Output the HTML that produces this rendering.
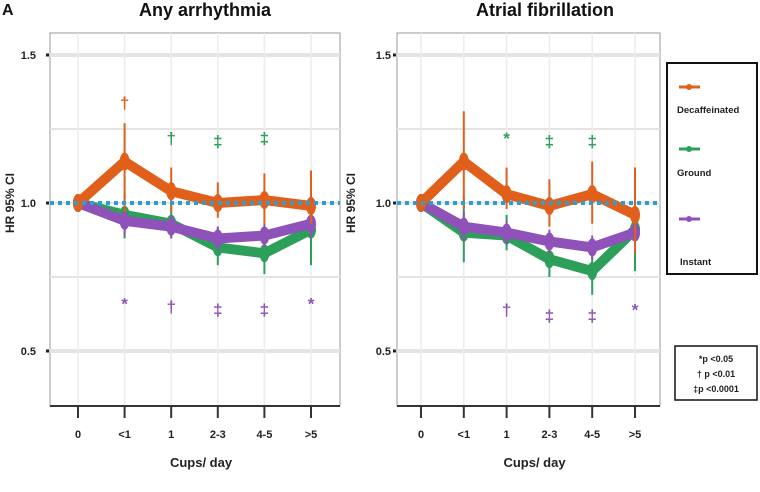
<!DOCTYPE html>
<html><head><meta charset="utf-8"><style>
body{margin:0;background:#fff;width:760px;height:487px;overflow:hidden;font-family:"Liberation Sans",sans-serif}
svg text{font-family:"Liberation Sans",sans-serif;font-weight:bold}
</style></head><body>
<svg id="c" width="760" height="487"></svg>
<script>
const categories=["0","<1","1","2-3","4-5",">5"];
const yTicks=[1.5,1.0,0.5];
const gridVals=[1.5,1.25,1.0,0.75,0.5];
const a_decaf=[1.0,1.14,1.04,1.0,1.01,0.99];
const a_decafLo=[1.0,0.97,0.97,0.95,0.93,0.93];
const a_decafHi=[1.0,1.27,1.12,1.07,1.10,1.11];
const a_ground=[1.0,0.96,0.93,0.85,0.83,0.91];
const a_groundLo=[1.0,0.88,0.88,0.79,0.76,0.79];
const a_groundHi=[1.0,1.04,1.0,0.92,0.92,1.05];
const a_inst=[1.0,0.94,0.92,0.88,0.89,0.93];
const a_instLo=[1.0,0.89,0.88,0.84,0.85,0.88];
const a_instHi=[1.0,0.99,0.96,0.92,0.93,0.98];
const a_marks=[["decaf",1,1.34,"†"],["ground",2,1.22,"†"],["ground",3,1.21,"‡"],["ground",4,1.22,"‡"],["inst",1,0.66,"*"],["inst",2,0.65,"†"],["inst",3,0.64,"‡"],["inst",4,0.64,"‡"],["inst",5,0.66,"*"]];
const b_decaf=[1.0,1.14,1.03,0.99,1.03,0.96];
const b_decafLo=[1.0,0.98,0.98,0.92,0.93,0.83];
const b_decafHi=[1.0,1.31,1.12,1.08,1.14,1.12];
const b_ground=[1.0,0.90,0.89,0.81,0.77,0.91];
const b_groundLo=[1.0,0.80,0.84,0.75,0.69,0.77];
const b_groundHi=[1.0,1.02,0.96,0.88,0.86,1.12];
const b_inst=[1.0,0.92,0.90,0.87,0.85,0.90];
const b_instLo=[1.0,0.87,0.86,0.83,0.81,0.85];
const b_instHi=[1.0,0.97,0.94,0.91,0.89,0.95];
const b_marks=[["ground",2,1.22,"*"],["ground",3,1.21,"‡"],["ground",4,1.21,"‡"],["inst",2,0.64,"†"],["inst",3,0.62,"‡"],["inst",4,0.62,"‡"],["inst",5,0.64,"*"]];
const COL={decaf:"#e0601b",ground:"#2ca05a",inst:"#8e52b8"};
const svg=document.getElementById('c');
const NS="http://www.w3.org/2000/svg";
function mk(t,a,p){const e=document.createElementNS(NS,t);for(const k in a)e.setAttribute(k,a[k]);(p||svg).appendChild(e);return e;}
function yS(v){return 203-(v-1)*296;}
function panel(id,x0,x1,xFirst,xStep,title,tx,ylx,ytx,S){
  const g=mk('g',{});
  
  
  const xS=i=>xFirst+i*xStep;
  mk('rect',{x:x0,y:33,width:x1-x0,height:373,fill:'#fff',stroke:'#999','stroke-width':1},g);
  gridVals.forEach(v=>{const l=mk('line',{x1:x0,x2:x1,y1:yS(v),y2:yS(v),stroke:'#e4e4e4','stroke-width':(v==1.5||v==0.5)?4:2},g);});
  categories.forEach((c,i)=>{mk('line',{x1:xS(i),x2:xS(i),y1:33,y2:406,stroke:'#ececec','stroke-width':1.5},g);
    mk('line',{x1:xS(i),x2:xS(i),y1:406,y2:418,stroke:'#333','stroke-width':2},g);
    const t=mk('text',{x:xS(i),y:438,'text-anchor':'middle','font-size':11,fill:'#222'},g);t.textContent=c;
    });
  mk('line',{x1:x0,x2:x1,y1:406,y2:406,stroke:'#333','stroke-width':2},g);
  yTicks.forEach(v=>{mk('rect',{x:x0-4,y:yS(v)-1.5,width:3,height:3,fill:'#222'},g);
    const t=mk('text',{x:ylx,y:yS(v)+4,'text-anchor':'end','font-size':11,fill:'#222'},g);t.textContent=v.toFixed(1);
    });
  const yt=mk('text',{x:ytx,y:203,'text-anchor':'middle','font-size':12,fill:'#222',transform:`rotate(-90 ${ytx} 203)`},g);yt.textContent="HR 95% CI";
  
  const xt=mk('text',{x:(x0+x1)/2+6,y:467,'text-anchor':'middle','font-size':13,fill:'#222'},g);xt.textContent="Cups/ day";
  
  const tt=mk('text',{x:tx,y:16,'text-anchor':'middle','font-size':18,fill:'#111'},g);tt.textContent=title;
  
  ['ground','inst','decaf'].forEach(k=>{
    const vals=S[k],lo=S[k+'Lo'],hi=S[k+'Hi'];
    const sg=mk('g',{},g);
    
    
    vals.forEach((v,i)=>{if(i>0)mk('line',{x1:xS(i),x2:xS(i),y1:yS(hi[i]),y2:yS(lo[i]),stroke:COL[k],'stroke-width':2},sg);});
    mk('polyline',{points:vals.map((v,i)=>xS(i)+','+yS(v)).join(' '),fill:'none',stroke:COL[k],'stroke-width':10,'stroke-linejoin':'round'},sg);
    vals.forEach((v,i)=>{const e=mk('ellipse',{cx:xS(i),cy:yS(v),rx:5,ry:9,fill:COL[k]},sg);});
  });
  mk('line',{x1:x0,x2:x1,y1:yS(1),y2:yS(1),stroke:'#2a9fd6','stroke-width':4,'stroke-dasharray':'4 4'},g);
  S.marks.forEach(m=>{const t=mk('text',{x:xS(m[1]),y:yS(m[2])+6,'text-anchor':'middle','font-size':17,fill:COL[m[0]]},g);t.textContent=m[3];
    });
}
panel('panel-any-arrhythmia',50,340,78,46.6,'Any arrhythmia',205,36,14,
 {decaf:a_decaf,decafLo:a_decafLo,decafHi:a_decafHi,ground:a_ground,groundLo:a_groundLo,groundHi:a_groundHi,inst:a_inst,instLo:a_instLo,instHi:a_instHi,marks:a_marks});
panel('panel-atrial-fibrillation',397,660,421,42.8,'Atrial fibrillation',545,391,355,
 {decaf:b_decaf,decafLo:b_decafLo,decafHi:b_decafHi,ground:b_ground,groundLo:b_groundLo,groundHi:b_groundHi,inst:b_inst,instLo:b_instLo,instHi:b_instHi,marks:b_marks});
const A=mk('text',{x:2,y:15,'font-size':16,fill:'#111'});A.textContent="A";


const lg=mk('g',{});


mk('rect',{x:667,y:63,width:90,height:211,fill:'#fff',stroke:'#111','stroke-width':2},lg);
[["decaf",87,113,"Decaffeinated"],["ground",149,176,"Ground"],["inst",219,265,"Instant"]].forEach(e=>{
  const eg=mk('g',{},lg);
  
  
  mk('line',{x1:679,x2:700,y1:e[1],y2:e[1],stroke:COL[e[0]],'stroke-width':3},eg);
  mk('circle',{cx:689,cy:e[1],r:3,fill:COL[e[0]]},eg);
  const t=mk('text',{x:e[0]=="inst"?680:677,y:e[2],'font-size':9.5,fill:'#222'},eg);t.textContent=e[3];
});
const pg=mk('g',{});


mk('rect',{x:675,y:346,width:82,height:54,fill:'#fff',stroke:'#111','stroke-width':1.5},pg);
[["*p <0.05",362],["† p <0.01",377],["‡p <0.0001",392]].forEach(r=>{const t=mk('text',{x:716,y:r[1],'text-anchor':'middle','font-size':9,fill:'#222'},pg);t.textContent=r[0];});
</script>
</body></html>
